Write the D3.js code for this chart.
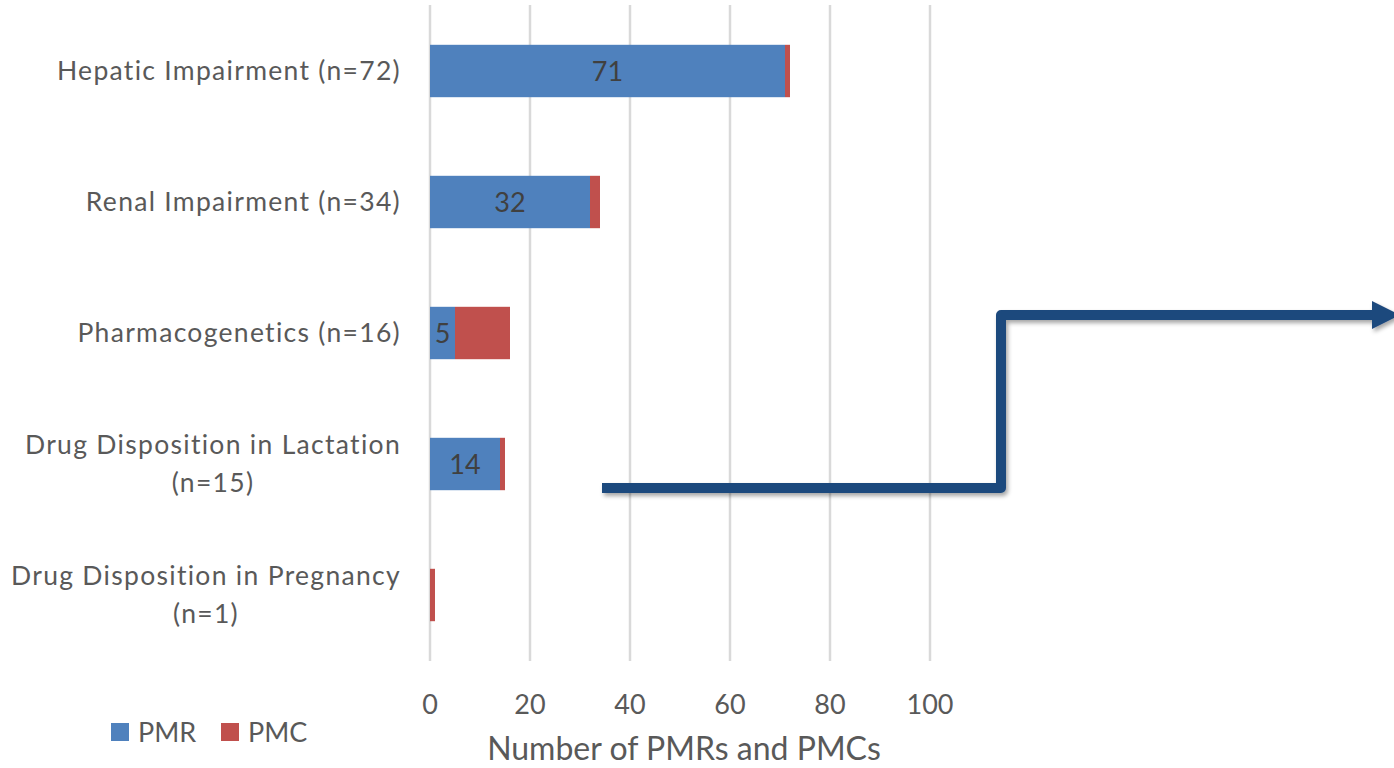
<!DOCTYPE html>
<html>
<head>
<meta charset="utf-8">
<script src="https://cdn.jsdelivr.net/npm/d3@7"></script>
<style>
  html, body { margin: 0; padding: 0; background: #fff; }
  svg { display: block; font-family: Lato, 'Liberation Sans', sans-serif; }
</style>
</head>
<body>
<div id="chart"></div>
<script>
// data
const categories = [
  ['Hepatic Impairment (n=72)'],
  ['Renal Impairment (n=34)'],
  ['Pharmacogenetics (n=16)'],
  ['Drug Disposition in Lactation', '(n=15)'],
  ['Drug Disposition in Pregnancy', '(n=1)'],
]
const pmr = [71, 32, 5, 14, 0]
const pmc = [1, 2, 11, 1, 1]
const seriesNames = ['PMR', 'PMC']
const xTicks = [0, 20, 40, 60, 80, 100]

// size
const W = 1394
const H = 768

// style
const colors = { PMR: '#4f81bd', PMC: '#c0504d' }
const textColor = '#595959'

const rows = categories.map((lines, i) => ({
  key: lines.join(' '),
  lines,
  PMR: pmr[i],
  PMC: pmc[i],
}))

// scale
const x = d3.scaleLinear().domain([0, 100]).range([430, 930])
const y = d3
  .scaleBand()
  .domain(rows.map(d => d.key))
  .range([5.5, 660.5])
  .paddingInner(0.6)
  .paddingOuter(0.3)

const svg = d3
  .select('#chart')
  .append('svg')
  .attr('width', W)
  .attr('height', H)

// shadow for the arrow
svg
  .append('defs')
  .append('filter')
  .attr('id', 'shadow')
  .attr('x', '-10%')
  .attr('y', '-10%')
  .attr('width', '130%')
  .attr('height', '130%')
  .append('feDropShadow')
  .attr('dx', 2)
  .attr('dy', 3)
  .attr('stdDeviation', 2)
  .attr('flood-color', '#000')
  .attr('flood-opacity', 0.35)

// gridlines
svg
  .append('g')
  .selectAll('line')
  .data(xTicks)
  .join('line')
  .attr('x1', d => x(d))
  .attr('x2', d => x(d))
  .attr('y1', 5)
  .attr('y2', 661)
  .attr('stroke', '#d9d9d9')
  .attr('stroke-width', 2.5)

// tick labels
svg
  .append('g')
  .selectAll('text')
  .data(xTicks)
  .join('text')
  .attr('x', d => x(d))
  .attr('y', 714)
  .attr('text-anchor', 'middle')
  .attr('font-size', 27)
  .attr('fill', textColor)
  .text(d => d)

// bars
const stacked = d3.stack().keys(seriesNames)(rows)
svg
  .append('g')
  .selectAll('g')
  .data(stacked)
  .join('g')
  .attr('fill', s => colors[s.key])
  .selectAll('rect')
  .data(s => s)
  .join('rect')
  .attr('x', d => x(d[0]))
  .attr('width', d => x(d[1]) - x(d[0]))
  .attr('y', d => y(d.data.key))
  .attr('height', y.bandwidth())

// PMR value labels
svg
  .append('g')
  .selectAll('text')
  .data(rows.filter(d => d.PMR > 0))
  .join('text')
  .attr('x', d => x(d.PMR / 2))
  .attr('y', d => y(d.key) + y.bandwidth() / 2 + 10)
  .attr('text-anchor', 'middle')
  .attr('font-size', 27)
  .attr('fill', '#404040')
  .text(d => d.PMR)

// category labels
const catLabels = svg
  .append('g')
  .selectAll('text')
  .data(rows)
  .join('text')
  .attr('font-size', 26.5)
  .attr('letter-spacing', 1.3)
  .attr('fill', textColor)
  .attr('text-anchor', 'middle')

catLabels.each(function(d) {
  const t = d3.select(this)
  const mid = y(d.key) + y.bandwidth() / 2
  const lh = 38
  const top = mid + 9 - ((d.lines.length - 1) * lh) / 2
  d.lines.forEach((line, i) => {
    t.append('tspan').attr('y', top + i * lh).text(line)
  })
  // right-align the block at x = 400, lines centred within it
  const widths = []
  t.selectAll('tspan').each(function() {
    widths.push(this.getComputedTextLength())
  })
  const maxW = d3.max(widths)
  t.selectAll('tspan').attr('x', 401 - maxW / 2)
})

// legend
const legend = svg
  .append('g')
  .selectAll('g')
  .data(seriesNames)
  .join('g')
  .attr('transform', (d, i) => `translate(${111 + i * 110}, 723)`)
legend
  .append('rect')
  .attr('width', 18)
  .attr('height', 18)
  .attr('fill', d => colors[d])
legend
  .append('text')
  .attr('x', 27)
  .attr('y', 19)
  .attr('font-size', 27)
  .attr('fill', textColor)
  .text(d => d)

// axis title
svg
  .append('text')
  .attr('x', 684)
  .attr('y', 760)
  .attr('text-anchor', 'middle')
  .attr('font-size', 32)
  .attr('fill', textColor)
  .text('Number of PMRs and PMCs')

// annotation arrow (from the lactation row up past pharmacogenetics)
const arrowColor = '#1f497d'
const lowY = y(rows[3].key) + y.bandwidth() / 2 + 24
const highY = y(rows[2].key) + y.bandwidth() / 2 - 18
const arrow = svg.append('g').attr('filter', 'url(#shadow)')
arrow
  .append('path')
  .attr('d', `M${x(34.4)},${lowY} H${x(114.2)} V${highY} H${x(188.5)}`)
  .attr('fill', 'none')
  .attr('stroke', arrowColor)
  .attr('stroke-width', 10)
  .attr('stroke-linejoin', 'round')
arrow
  .append('path')
  .attr('d', `M${x(188.4)},${highY - 14} L${x(194)},${highY} L${x(188.4)},${highY + 14} Z`)
  .attr('fill', arrowColor)
</script>
</body>
</html>
